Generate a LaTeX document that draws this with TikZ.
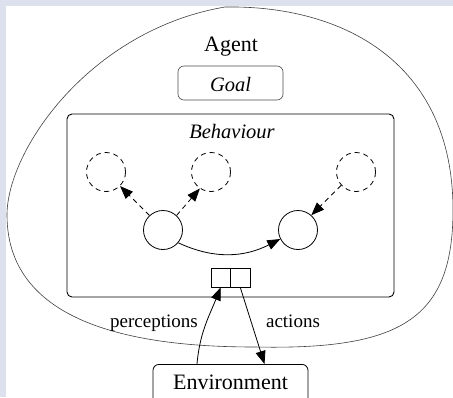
\documentclass[tikz,border=0pt]{standalone}
\usepackage{fontspec}
\setmainfont{Liberation Serif}
\usetikzlibrary{arrows.meta}
\definecolor{slidebg}{HTML}{DDE0ED}
\begin{document}
\begin{tikzpicture}[x=1pt,y=-1pt,
  tip/.style={-{Triangle[length=13pt,width=10pt]}},
  statecirc/.style={circle,draw,line width=0.8pt,minimum size=39pt,inner sep=0pt},
  ghostcirc/.style={circle,draw,dash pattern=on 5pt off 4pt,line width=0.8pt,minimum size=39pt,inner sep=0pt},
  cell/.style={draw,line width=0.7pt,minimum width=19.5pt,minimum height=19pt,inner sep=0pt},
  bigtxt/.style={font=\fontsize{22}{26}\selectfont},
  midtxt/.style={font=\fontsize{20.5}{24}\selectfont\itshape},
  lbltxt/.style={font=\fontsize{19}{22}\selectfont}]
\useasboundingbox (0,0) rectangle (453,397);
\fill[slidebg] (0,0) rectangle (453,397);
\fill[white] (6,6) rectangle (453,397);
\clip (0,0) rectangle (453,397);

% agent blob
\draw[black!75,line width=0.6pt]
  (225,7) .. controls (340,5) and (453,60) .. (453,210)
          .. controls (453,320) and (400,350) .. (255,347)
          .. controls (150,347) and (7,330) .. (7,215)
          .. controls (7,150) and (90,30) .. (225,7) -- cycle;

\node[bigtxt,anchor=base] (agent) at (231,51) {Agent};
\node[draw,black!70,line width=0.6pt,rounded corners=6pt,minimum width=105pt,minimum height=34pt,
      inner sep=0pt] (goal) at (230.5,83) {};
\node[midtxt,anchor=base] (goaltxt) at (230.5,91) {Goal};

\node[draw,line width=0.9pt,rounded corners=5pt,minimum width=327pt,minimum height=183pt,inner sep=0pt]
      (beh) at (230.5,205.5) {};
\node[midtxt,anchor=base] (behtxt) at (232,138) {Behaviour};

\node[ghostcirc] (d1) at (106,172) {};
\node[ghostcirc] (d2) at (211,172) {};
\node[ghostcirc] (d3) at (356,172) {};
\node[statecirc] (L) at (163,230) {};
\node[statecirc] (R) at (298,230) {};

\draw[tip,dash pattern=on 5pt off 4pt,line width=0.8pt] (L.133) -- (d1.-45);
\draw[tip,dash pattern=on 5pt off 4pt,line width=0.8pt] (L.47) -- (d2.-124);
\draw[tip,dash pattern=on 5pt off 4pt,line width=0.8pt] (d3.-138) -- (R.48);
\draw[tip,line width=0.8pt] (L.-40) to[out=-25,in=207] (R.207);

\node[cell] (pin) at (220.75,277.5) {};
\node[cell] (pout) at (240.25,277.5) {};

\node[draw,line width=0.8pt,rounded corners=6pt,minimum width=155pt,inner sep=0pt,
      text height=25pt,text depth=20pt,anchor=north,bigtxt] (env) at (230.5,364) {Environment};

\draw[tip,line width=0.8pt] ([xshift=-33.5pt]env.north) to[out=85,in=-112] (pin.south);
\draw[tip,line width=0.8pt] (pout.south) -- ([xshift=34pt]env.north);

\node[lbltxt,anchor=base] (perc) at (154,327) {perceptions};
\node[lbltxt,anchor=base] (act) at (293,327) {actions};
\end{tikzpicture}
\end{document}
